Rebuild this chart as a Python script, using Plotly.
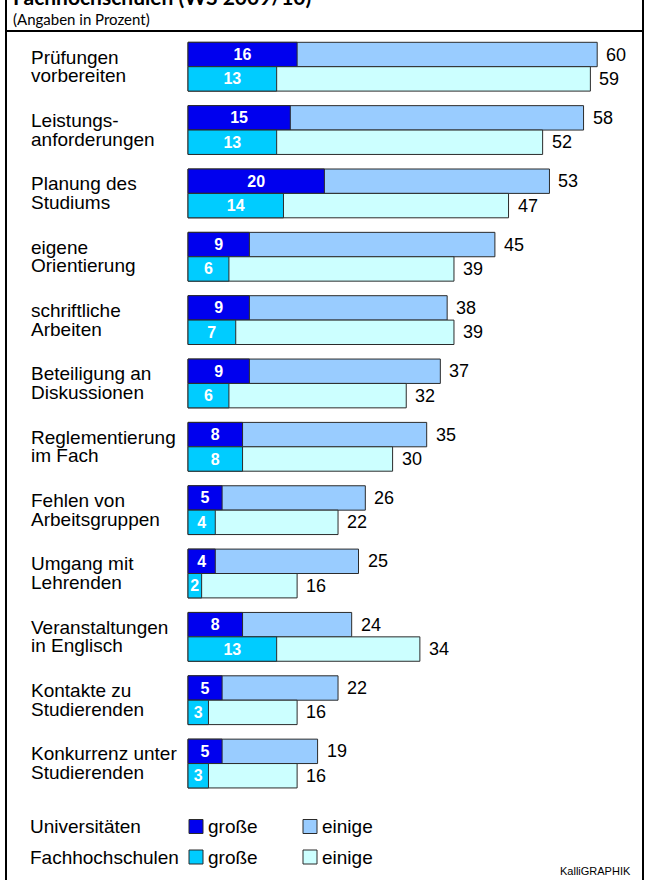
import plotly.graph_objects as go

# --------------------------------------------------------
# Data (Angaben in Prozent)
categories = [
    "Prüfungen<br>vorbereiten",
    "Leistungs-<br>anforderungen",
    "Planung des<br>Studiums",
    "eigene<br>Orientierung",
    "schriftliche<br>Arbeiten",
    "Beteiligung an<br>Diskussionen",
    "Reglementierung<br>im Fach",
    "Fehlen von<br>Arbeitsgruppen",
    "Umgang mit<br>Lehrenden",
    "Veranstaltungen<br>in Englisch",
    "Kontakte zu<br>Studierenden",
    "Konkurrenz unter<br>Studierenden",
]
uni_grosse = [16, 15, 20, 9, 9, 9, 8, 5, 4, 8, 5, 5]
uni_gesamt = [60, 58, 53, 45, 38, 37, 35, 26, 25, 24, 22, 19]
fh_grosse = [13, 13, 14, 6, 7, 6, 8, 4, 2, 13, 3, 3]
fh_gesamt = [59, 52, 47, 39, 39, 32, 30, 22, 16, 34, 16, 16]

title_text = "Fachhochschulen (WS 2009/10)"
subtitle_text = "(Angaben in Prozent)"
credit_text = "KalliGRAPHIK"

# --------------------------------------------------------
# Layout constants (pixels)
W, H = 649, 880
X0 = 188            # pixel position of value 0
PX_UNIT = 6.82      # pixels per percent
TOP0 = 42.3         # top of first bar
PITCH = 63.35       # distance between groups
BAR_H = 24.4        # height of one bar

C_UNI_GROSSE = "#0000EE"
C_UNI_EINIGE = "#99CCFF"
C_FH_GROSSE = "#00CCFF"
C_FH_EINIGE = "#CCFFFF"
C_EDGE = "#2b2b2b"

ARIAL = "Liberation Sans, Arial, sans-serif"
CALIBRI = "Lato, Open Sans, sans-serif"

center0 = TOP0 + BAR_H
bw = BAR_H / PITCH
idx = list(range(len(categories)))


def px_x(p):
    return p / W


def px_y(p):
    return 1 - p / H


fig = go.Figure()

# einige (full length) first, große drawn on top
for totals, grosse, c_light, c_dark, off in [
    (uni_gesamt, uni_grosse, C_UNI_EINIGE, C_UNI_GROSSE, -bw),
    (fh_gesamt, fh_grosse, C_FH_EINIGE, C_FH_GROSSE, 0),
]:
    fig.add_trace(go.Bar(
        x=totals, y=idx, orientation="h",
        offset=off, width=bw,
        marker=dict(color=c_light, line=dict(color=C_EDGE, width=1)),
        hoverinfo="skip",
    ))
    fig.add_trace(go.Bar(
        x=grosse, y=idx, orientation="h",
        offset=off, width=bw,
        marker=dict(color=c_dark, line=dict(color=C_EDGE, width=1)),
        text=[str(v) for v in grosse],
        textposition="inside", insidetextanchor="middle",
        constraintext="none", textangle=0,
        textfont=dict(family=ARIAL, size=16, color="white", weight="bold"),
        hoverinfo="skip",
    ))

annotations = []

# value labels right of the bars
for i in idx:
    for val, yy in [(uni_gesamt[i], i - bw / 2), (fh_gesamt[i], i + bw / 2)]:
        annotations.append(dict(
            x=val, y=yy, xref="x", yref="y", text=str(val),
            xanchor="left", yanchor="middle", xshift=7,
            showarrow=False, font=dict(family=ARIAL, size=18, color="black"),
        ))

# category labels (two lines, tight spacing)
for i, cat in enumerate(categories):
    line1, line2 = cat.split("<br>")
    for txt, shift in [(line1, 9.6), (line2, -9.0)]:
        annotations.append(dict(
            x=px_x(29), y=i, xref="paper", yref="y", text=txt,
            xanchor="left", yanchor="middle", yshift=shift,
            showarrow=False, font=dict(family=ARIAL, size=19, color="black"),
        ))

# title (cut at the top) and subtitle
annotations.append(dict(
    x=px_x(11), y=px_y(11), xref="paper", yref="paper", text=f"<b>{title_text}</b>",
    xanchor="left", yanchor="bottom", showarrow=False,
    font=dict(family=CALIBRI, size=21, color="black"),
))
annotations.append(dict(
    x=px_x(11), y=px_y(19), xref="paper", yref="paper", text=subtitle_text,
    xanchor="left", yanchor="middle", showarrow=False,
    font=dict(family=CALIBRI, size=15, color="black"),
))

# legend
legend_rows = [
    ("Universitäten", C_UNI_GROSSE, C_UNI_EINIGE, 826.5),
    ("Fachhochschulen", C_FH_GROSSE, C_FH_EINIGE, 857),
]
shapes = []
for name, c_dark, c_light, yc in legend_rows:
    annotations.append(dict(
        x=px_x(28), y=px_y(yc), xref="paper", yref="paper", text=name,
        xanchor="left", yanchor="middle", showarrow=False,
        font=dict(family=ARIAL, size=19, color="black"),
    ))
    for x_sq, col, label in [(189, c_dark, "große"), (303, c_light, "einige")]:
        shapes.append(dict(
            type="rect", xref="paper", yref="paper",
            x0=px_x(x_sq), x1=px_x(x_sq + 14), y0=px_y(yc + 7), y1=px_y(yc - 7),
            fillcolor=col, line=dict(color=C_EDGE, width=1),
        ))
        annotations.append(dict(
            x=px_x(x_sq + 17), y=px_y(yc), xref="paper", yref="paper", text=label,
            xanchor="left", yanchor="middle", showarrow=False,
            font=dict(family=ARIAL, size=19, color="black"),
        ))

annotations.append(dict(
    x=px_x(633), y=px_y(879), xref="paper", yref="paper", text=credit_text,
    xanchor="right", yanchor="bottom", showarrow=False,
    font=dict(family=ARIAL, size=11, color="black"),
))

# frame lines
for x in (6, 643):
    shapes.append(dict(type="line", xref="paper", yref="paper",
                       x0=px_x(x), x1=px_x(x), y0=0, y1=1,
                       line=dict(color="black", width=2)))
shapes.append(dict(type="line", xref="paper", yref="paper",
                   x0=px_x(6), x1=px_x(643), y0=px_y(31), y1=px_y(31),
                   line=dict(color="black", width=2)))

fig.update_layout(
    width=W, height=H,
    margin=dict(l=0, r=0, t=0, b=0),
    barmode="overlay",
    showlegend=False,
    paper_bgcolor="white", plot_bgcolor="white",
    xaxis=dict(visible=False, range=[-X0 / PX_UNIT, (W - X0) / PX_UNIT], fixedrange=True),
    yaxis=dict(visible=False, range=[(H - center0) / PITCH, -center0 / PITCH], fixedrange=True),
    annotations=annotations,
    shapes=shapes,
)

fig.write_html("out.html", config={"displayModeBar": False},
               post_script="document.body.style.margin = '0';")
